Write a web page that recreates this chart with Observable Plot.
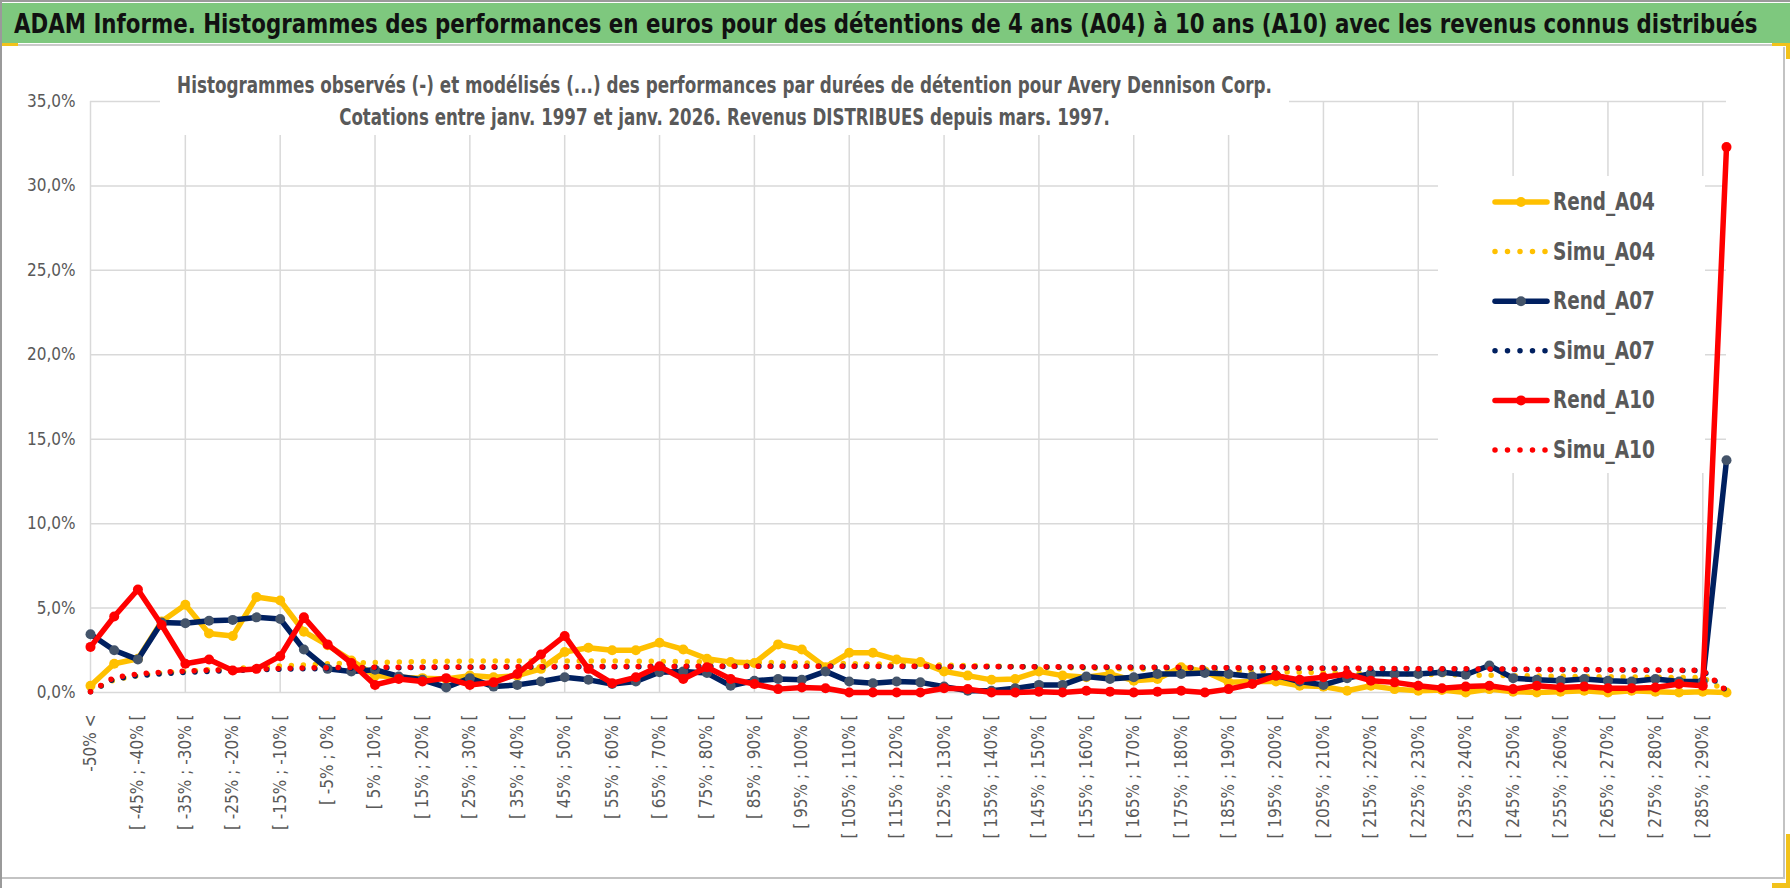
<!DOCTYPE html>
<html>
<head>
<meta charset="utf-8">
<script src="https://cdn.jsdelivr.net/npm/d3@7"></script>
<script src="https://cdn.jsdelivr.net/npm/@observablehq/plot@0.6"></script>
<style>
  html, body { margin: 0; padding: 0; background: #fff; }
  body { width: 1790px; height: 888px; position: relative; overflow: hidden;
         font-family: "Liberation Sans Narrow", "DejaVu Sans Condensed", "Liberation Sans", sans-serif; }
  svg { overflow: visible; }
  #frame-top { position: absolute; left: 0; top: 0; width: 1790px; height: 2px; background: #9a9a9a; }
  #frame-left { position: absolute; left: 0; top: 0; width: 2px; height: 888px; background: #9a9a9a; }
  #titlebar { position: absolute; left: 2px; top: 3px; width: 1788px; height: 40px; background: #7ec87e; }
  #titlebar svg { position: absolute; left: 0; top: 0; }
  #titleline { position: absolute; left: 2px; top: 44px; width: 1788px; height: 2px; background: #c9c9c9; }
  #box { position: absolute; left: 2px; top: 47px; width: 1781px; height: 830px; border-right: 2px solid #c3c3c3; border-bottom: 2px solid #c3c3c3; }
  #chart { position: absolute; left: 0; top: 47px; }
  #subtitle { position: absolute; left: 160px; top: 62px; width: 1129px; height: 73px; background: #fff; }
  #legend { position: absolute; left: 1438px; top: 176px; width: 267px; height: 297px; background: #fff; }
  .gold { position: absolute; background: #f2c21b; }
</style>
</head>
<body>
<div id="frame-top"></div>
<div id="frame-left"></div>
<div id="titlebar"></div>
<div id="titleline"></div>
<div id="box"></div>
<div id="chart"></div>
<div id="subtitle"></div>
<div id="legend"></div>
<div class="gold" style="left:2px;top:43px;width:16px;height:3px;"></div>
<div class="gold" style="left:1772px;top:43px;width:18px;height:3px;"></div>
<div class="gold" style="left:1786px;top:43px;width:4px;height:16px;"></div>
<div class="gold" style="left:1786px;top:834px;width:4px;height:54px;"></div>
<div class="gold" style="left:1772px;top:883px;width:18px;height:5px;"></div>
<script>
// ---------- DATA ----------
const titleText = "ADAM Informe. Histogrammes des performances en euros pour des détentions de 4 ans (A04) à 10 ans (A10) avec les revenus connus distribués";
const subtitleLines = [
  "Histogrammes observés (-) et modélisés (...) des performances par durées de détention pour Avery Dennison Corp.",
  "Cotations entre janv. 1997 et janv. 2026. Revenus DISTRIBUES depuis mars. 1997."
];
const categories = [
  "-50% <",
  "[ -50% ; -45% [", "[ -45% ; -40% [", "[ -40% ; -35% [", "[ -35% ; -30% [", "[ -30% ; -25% [",
  "[ -25% ; -20% [", "[ -20% ; -15% [", "[ -15% ; -10% [", "[ -10% ; -5% [", "[ -5% ; 0% [",
  "[ 0% ; 5% [", "[ 5% ; 10% [", "[ 10% ; 15% [", "[ 15% ; 20% [", "[ 20% ; 25% [",
  "[ 25% ; 30% [", "[ 30% ; 35% [", "[ 35% ; 40% [", "[ 40% ; 45% [", "[ 45% ; 50% [",
  "[ 50% ; 55% [", "[ 55% ; 60% [", "[ 60% ; 65% [", "[ 65% ; 70% [", "[ 70% ; 75% [",
  "[ 75% ; 80% [", "[ 80% ; 85% [", "[ 85% ; 90% [", "[ 90% ; 95% [", "[ 95% ; 100% [",
  "[ 100% ; 105% [", "[ 105% ; 110% [", "[ 110% ; 115% [", "[ 115% ; 120% [", "[ 120% ; 125% [",
  "[ 125% ; 130% [", "[ 130% ; 135% [", "[ 135% ; 140% [", "[ 140% ; 145% [", "[ 145% ; 150% [",
  "[ 150% ; 155% [", "[ 155% ; 160% [", "[ 160% ; 165% [", "[ 165% ; 170% [", "[ 170% ; 175% [",
  "[ 175% ; 180% [", "[ 180% ; 185% [", "[ 185% ; 190% [", "[ 190% ; 195% [", "[ 195% ; 200% [",
  "[ 200% ; 205% [", "[ 205% ; 210% [", "[ 210% ; 215% [", "[ 215% ; 220% [", "[ 220% ; 225% [",
  "[ 225% ; 230% [", "[ 230% ; 235% [", "[ 235% ; 240% [", "[ 240% ; 245% [", "[ 245% ; 250% [",
  "[ 250% ; 255% [", "[ 255% ; 260% [", "[ 260% ; 265% [", "[ 265% ; 270% [", "[ 270% ; 275% [",
  "[ 275% ; 280% [", "[ 280% ; 285% [", "[ 285% ; 290% [", "> 290%"
];
const yTicks = [0, 5, 10, 15, 20, 25, 30, 35];

const rendA04 = [0.4, 1.7, 2.0, 4.2, 5.2, 3.5, 3.35, 5.65, 5.45, 3.6,
  2.8, 1.9, 1.0, 0.9, 0.85, 0.8, 1.0, 0.9, 1.0, 1.4,
  2.4, 2.65, 2.5, 2.5, 2.95, 2.55, 2.0, 1.8, 1.75, 2.85,
  2.55, 1.5, 2.35, 2.35, 1.95, 1.8, 1.25, 1.0, 0.75, 0.8,
  1.25, 1.0, 0.9, 1.1, 0.7, 0.8, 1.5, 1.25, 0.6, 0.65,
  0.65, 0.4, 0.35, 0.1, 0.4, 0.2, 0.1, 0.15, 0.0, 0.2,
  0.05, 0.0, 0.05, 0.1, 0.0, 0.1, 0.05, 0.0, 0.05, 0.0];
const simuA04 = [0.1, 0.75, 1.0, 1.15, 1.25, 1.35, 1.42, 1.5, 1.57, 1.63,
  1.7, 1.75, 1.78, 1.8, 1.83, 1.85, 1.86, 1.87, 1.87, 1.87,
  1.87, 1.86, 1.86, 1.85, 1.84, 1.83, 1.82, 1.8, 1.78, 1.77,
  1.75, 1.73, 1.71, 1.69, 1.67, 1.64, 1.62, 1.59, 1.56, 1.54,
  1.51, 1.48, 1.45, 1.42, 1.4, 1.37, 1.34, 1.31, 1.28, 1.26,
  1.23, 1.2, 1.18, 1.15, 1.13, 1.1, 1.08, 1.06, 1.04, 1.02,
  1.0, 0.98, 0.96, 0.95, 0.93, 0.92, 0.9, 0.89, 0.88, 0.05];
const rendA07 = [3.45, 2.5, 1.95, 4.15, 4.1, 4.25, 4.3, 4.45, 4.35, 2.55,
  1.4, 1.25, 1.35, 0.95, 0.75, 0.3, 0.85, 0.35, 0.45, 0.65,
  0.9, 0.75, 0.5, 0.65, 1.2, 1.25, 1.15, 0.4, 0.7, 0.8,
  0.75, 1.25, 0.65, 0.55, 0.65, 0.6, 0.35, 0.1, 0.1, 0.25,
  0.45, 0.45, 0.95, 0.8, 0.9, 1.1, 1.1, 1.15, 1.1, 0.95,
  1.0, 0.65, 0.45, 0.85, 1.12, 1.1, 1.1, 1.2, 1.05, 1.6,
  0.85, 0.75, 0.7, 0.8, 0.7, 0.65, 0.8, 0.65, 0.65, 13.75];
const simuA07 = [0.05, 0.8, 1.0, 1.1, 1.2, 1.25, 1.3, 1.35, 1.38, 1.4,
  1.42, 1.44, 1.46, 1.47, 1.48, 1.49, 1.5, 1.5, 1.51, 1.51,
  1.52, 1.52, 1.53, 1.53, 1.54, 1.54, 1.54, 1.55, 1.55, 1.55,
  1.55, 1.55, 1.55, 1.54, 1.54, 1.54, 1.53, 1.53, 1.53, 1.52,
  1.52, 1.51, 1.5, 1.5, 1.49, 1.48, 1.47, 1.47, 1.46, 1.45,
  1.45, 1.44, 1.43, 1.42, 1.41, 1.41, 1.4, 1.39, 1.38, 1.38,
  1.37, 1.36, 1.35, 1.34, 1.34, 1.33, 1.32, 1.31, 1.3, 0.1];
const rendA10 = [2.7, 4.5, 6.1, 4.0, 1.7, 1.95, 1.3, 1.4, 2.15, 4.45,
  2.85, 1.75, 0.45, 0.8, 0.65, 0.85, 0.45, 0.6, 1.1, 2.25,
  3.35, 1.4, 0.55, 0.9, 1.55, 0.8, 1.5, 0.8, 0.5, 0.2,
  0.3, 0.25, 0.0, 0.0, 0.0, 0.0, 0.25, 0.2, 0.0, 0.0,
  0.05, 0.0, 0.1, 0.05, 0.0, 0.05, 0.1, 0.0, 0.2, 0.5,
  1.0, 0.75, 0.9, 1.1, 0.7, 0.6, 0.4, 0.25, 0.35, 0.4,
  0.2, 0.4, 0.3, 0.35, 0.25, 0.25, 0.3, 0.5, 0.4, 32.3];
const simuA10 = [0.05, 0.9, 1.1, 1.2, 1.27, 1.32, 1.36, 1.4, 1.42, 1.45,
  1.47, 1.48, 1.49, 1.5, 1.5, 1.51, 1.51, 1.52, 1.52, 1.53,
  1.53, 1.53, 1.54, 1.54, 1.54, 1.55, 1.55, 1.55, 1.56, 1.56,
  1.56, 1.56, 1.56, 1.55, 1.55, 1.55, 1.54, 1.54, 1.54, 1.53,
  1.53, 1.52, 1.52, 1.51, 1.5, 1.5, 1.49, 1.48, 1.47, 1.47,
  1.46, 1.45, 1.44, 1.43, 1.43, 1.42, 1.41, 1.4, 1.4, 1.39,
  1.38, 1.37, 1.36, 1.36, 1.35, 1.34, 1.33, 1.32, 1.31, 0.1];

const seriesNames = ["Rend_A04", "Simu_A04", "Rend_A07", "Simu_A07", "Rend_A10", "Simu_A10"];
const seriesValues = [rendA04, simuA04, rendA07, simuA07, rendA10, simuA10];
const seriesColors = ["#FFC000", "#FFC000", "#002060", "#002060", "#FF0000", "#FF0000"];
const markerColors = ["#FFC000", null, "#44546A", null, "#FF0000", null];

// ---------- BUILD ----------
const tickLabels = categories.filter((d, i) => i % 2 === 0);
const gridCats = categories.filter((d, i) => i % 4 === 0);
const textColor = "#595959";
const frFmt = d => d.toFixed(1).replace(".", ",") + "%";

const marks = [
  Plot.gridY(yTicks, {stroke: "#d9d9d9", strokeOpacity: 1, strokeWidth: 1.5}),
  Plot.gridX(gridCats, {stroke: "#d9d9d9", strokeOpacity: 1, strokeWidth: 1.5}),
  Plot.axisY(yTicks, {tickSize: 0, tickPadding: 15, tickFormat: frFmt, fontSize: 17, fill: textColor, label: null}),
  Plot.axisX(tickLabels, {tickSize: 0, tickPadding: 22, tickRotate: -90, fontSize: 17, fill: textColor, label: null})
];
seriesNames.forEach((name, s) => {
  const rows = seriesValues[s].map((v, i) => ({cat: categories[i], v}));
  if (markerColors[s]) {
    marks.push(Plot.line(rows, {x: "cat", y: "v", stroke: seriesColors[s], strokeWidth: 5.5}));
    marks.push(Plot.dot(rows, {x: "cat", y: "v", r: 5, fill: markerColors[s], stroke: "none"}));
  } else {
    marks.push(Plot.line(rows, {x: "cat", y: "v", stroke: seriesColors[s], strokeWidth: 5.5, strokeDasharray: "0 12", strokeLinecap: "round"}));
  }
});

const chart = Plot.plot({
  width: 1790,
  height: 841,
  marginTop: 54,
  marginBottom: 196,
  marginLeft: 90,
  marginRight: 64,
  x: {type: "point", domain: categories, padding: 0, axis: null},
  y: {domain: [0, 35], axis: null},
  style: {fontFamily: '"Liberation Sans Narrow", "DejaVu Sans Condensed", "Liberation Sans", sans-serif', background: "transparent", overflow: "visible"},
  marks
});
document.getElementById("chart").appendChild(chart);

// place a text at (x, y) and squeeze it horizontally so it spans `target` pixels
function squeezeText(parent, str, x, y, target, size, attrs) {
  const t = parent.append("text").attr("x", 0).attr("y", 0).attr("font-size", size).text(str);
  Object.entries(attrs).forEach(([k, v]) => t.attr(k, v));
  const w = t.node().getComputedTextLength();
  const s = Math.min(1.1, target / w);
  t.attr("transform", `translate(${x},${y}) scale(${s.toFixed(4)},1)`);
  return t;
}

// Title
const tsvg = d3.select("#titlebar").append("svg").attr("width", 1788).attr("height", 40);
squeezeText(tsvg, titleText, 12, 30, 1744, 27, {"font-weight": "bold", fill: "#111"});

// Subtitle
const ssvg = d3.select("#subtitle").append("svg").attr("width", 1129).attr("height", 73);
const subLens = [1095, 771];
subtitleLines.forEach((t, i) => {
  squeezeText(ssvg, t, 564.5, 31 + i * 32, subLens[i], 23,
    {"text-anchor": "middle", "font-weight": "bold", fill: textColor});
});

// Legend
const lsvg = d3.select("#legend").append("svg").attr("width", 267).attr("height", 297);
seriesNames.forEach((name, s) => {
  const cy = 26 + s * 49.6;
  const g = lsvg.append("g");
  if (markerColors[s]) {
    g.append("line").attr("x1", 57).attr("x2", 109).attr("y1", cy).attr("y2", cy)
      .attr("stroke", seriesColors[s]).attr("stroke-width", 5.5).attr("stroke-linecap", "round");
    g.append("circle").attr("cx", 83).attr("cy", cy).attr("r", 5).attr("fill", markerColors[s]);
  } else {
    g.append("line").attr("x1", 57).attr("x2", 109).attr("y1", cy).attr("y2", cy)
      .attr("stroke", seriesColors[s]).attr("stroke-width", 5.5).attr("stroke-linecap", "round")
      .attr("stroke-dasharray", "0 12.5");
  }
  squeezeText(g, name, 115, cy + 8, 102, 24, {"font-weight": "bold", fill: textColor});
});
</script>
</body>
</html>
